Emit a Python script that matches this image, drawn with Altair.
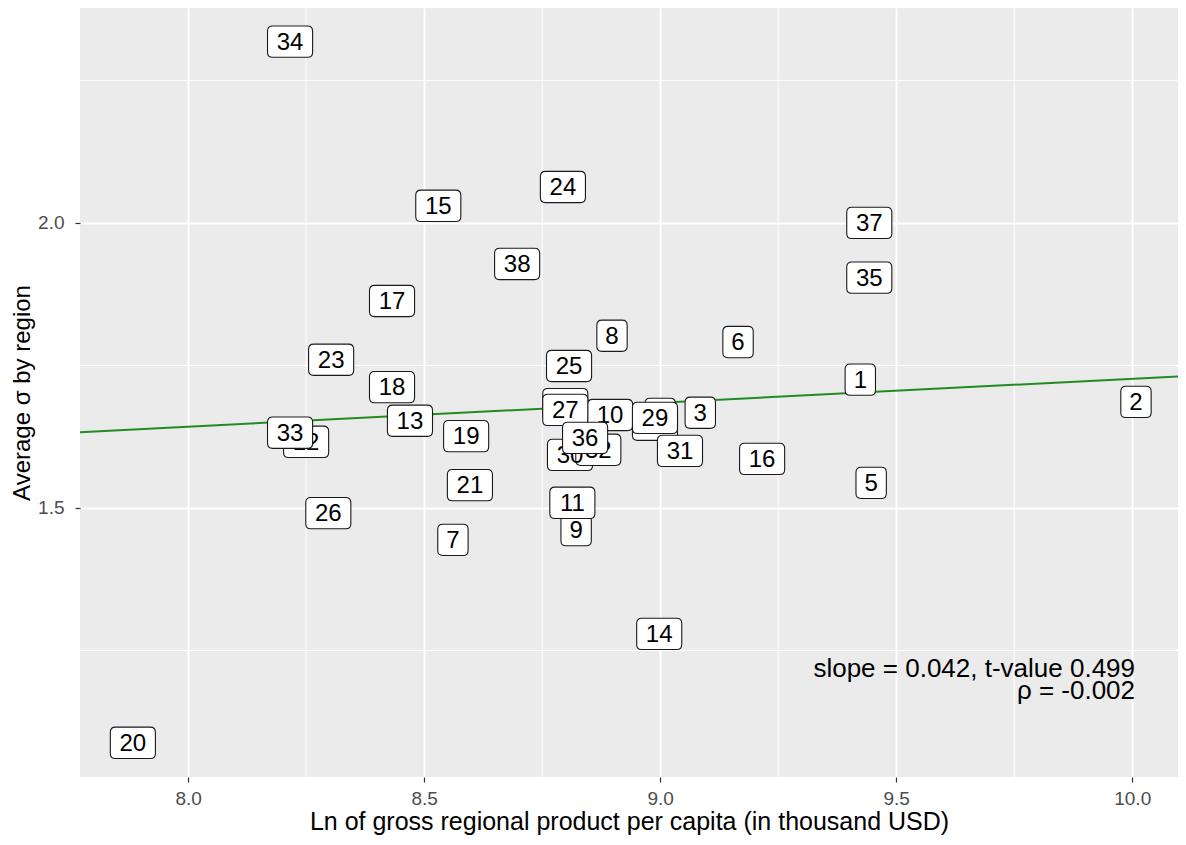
import altair as alt
import pandas as pd

# region labels and values
labels = ["1", "2", "3", "4", "5", "6", "7", "8", "9", "10",
          "11", "12", "13", "14", "15", "16", "17", "18", "19", "20",
          "21", "22", "23", "24", "25", "26", "27", "28", "29", "30",
          "31", "32", "33", "34", "35", "36", "37", "38"]
gdp_ln = [9.424, 10.008, 9.085, 9.000, 9.447, 9.165, 8.561, 8.898, 8.822, 8.894,
          8.814, 8.250, 8.470, 8.998, 8.530, 9.216, 8.432, 8.432, 8.589, 7.883,
          8.597, 8.799, 8.303, 8.794, 8.807, 8.297, 8.799, 8.989, 8.989, 8.809,
          9.042, 8.869, 8.216, 8.216, 9.443, 8.841, 9.443, 8.697]
avg_sigma = [1.725, 1.686, 1.667, 1.665, 1.544, 1.791, 1.444, 1.802, 1.461, 1.663,
             1.509, 1.616, 1.653, 1.279, 2.030, 1.586, 1.863, 1.712, 1.626, 1.088,
             1.540, 1.682, 1.760, 2.063, 1.749, 1.491, 1.672, 1.646, 1.658, 1.593,
             1.600, 1.602, 1.632, 2.318, 1.904, 1.623, 2.000, 1.928]
# drawing tier (which labels sit on top of which)
tier = [1, 1, 1, 0, 1, 1, 1, 1, 1, 1,
        1, 0, 1, 1, 1, 1, 1, 1, 1, 1,
        1, 0, 1, 1, 1, 1, 1, 0, 1, 0,
        1, 0, 1, 1, 1, 2, 1, 1]

# fitted line
fit_x = [7.771, 10.097]
fit_intercept = 1.3066
fit_slope = 0.042
fit_y = [fit_intercept + fit_slope * v for v in fit_x]

# annotation
note_text = ["slope = 0.042, t-value 0.499", "\u03c1 = -0.002"]
note_x = [10.006, 10.006]
note_y = [1.217, 1.178]

major_x = [8.0, 8.5, 9.0, 9.5, 10.0]
minor_x = [7.75, 8.25, 8.75, 9.25, 9.75]
major_y = [1.5, 2.0]
minor_y = [1.25, 1.75, 2.25]

X_DOMAIN = [7.771, 10.097]
Y_DOMAIN = [1.028, 2.377]

FONT = "Liberation Sans"

df = pd.DataFrame({"label": labels, "x": gdp_ln, "y": avg_sigma, "tier": tier})
df["kind"] = ["two" if len(s) > 1 else "one" for s in labels]
fit_df = pd.DataFrame({"x": fit_x, "y": fit_y})
note_df = pd.DataFrame({"text": note_text, "x": note_x, "y": note_y})


def rrect(hw, hh, r):
    return (f"M{-hw + r},{-hh}H{hw - r}Q{hw},{-hh} {hw},{-hh + r}"
            f"V{hh - r}Q{hw},{hh} {hw - r},{hh}H{-hw + r}"
            f"Q{-hw},{hh} {-hw},{hh - r}V{-hh + r}Q{-hw},{-hh} {-hw + r},{-hh}Z")


SHAPE_ONE = rrect(0.66, 0.68, 0.22)
SHAPE_TWO = rrect(0.98, 0.68, 0.22)

xs = alt.Scale(domain=X_DOMAIN, nice=False, zero=False)
ys = alt.Scale(domain=Y_DOMAIN, nice=False, zero=False)

X = alt.X("x:Q", scale=xs,
          axis=alt.Axis(values=major_x, format=".1f",
                        title="Ln of gross regional product per capita (in thousand USD)",
                        grid=True, gridColor="white", gridWidth=2,
                        labelFont=FONT, labelFontSize=19, labelColor="#4D4D4D",
                        labelPadding=7, titleFont=FONT, titleFontSize=25,
                        titlePadding=1, titleFontWeight="normal", titleColor="black"))
Y = alt.Y("y:Q", scale=ys,
          axis=alt.Axis(values=major_y, format=".1f", title="Average \u03c3 by region",
                        grid=True, gridColor="white", gridWidth=2,
                        labelFont=FONT, labelFontSize=19, labelColor="#4D4D4D",
                        labelPadding=11, titleFont=FONT, titleFontSize=24,
                        titlePadding=3, titleFontWeight="normal", titleColor="black"))

minor_v = alt.Chart(pd.DataFrame({"x": minor_x})).mark_rule(
    color="white", strokeWidth=1).encode(x=alt.X("x:Q", scale=xs))
minor_h = alt.Chart(pd.DataFrame({"y": minor_y})).mark_rule(
    color="white", strokeWidth=1).encode(y=alt.Y("y:Q", scale=ys))

fit = alt.Chart(fit_df).mark_line(color="#228B22", strokeWidth=2, clip=True).encode(x=X, y=Y)

base = alt.Chart(df)
layers = [minor_v, minor_h, fit]
for t in [0, 1, 2]:
    sub = base.transform_filter(alt.datum.tier == t)
    box = sub.mark_point(fill="white", fillOpacity=1, stroke="#1a1a1a",
                         strokeWidth=1.1, opacity=1, size=2116).encode(
        x=alt.X("x:Q", scale=xs), y=alt.Y("y:Q", scale=ys),
        shape=alt.Shape("kind:N", scale=alt.Scale(domain=["one", "two"],
                                                  range=[SHAPE_ONE, SHAPE_TWO]),
                        legend=None))
    txt = sub.mark_text(font=FONT, fontSize=24, color="black",
                        align="center", baseline="middle", dy=1).encode(
        x=alt.X("x:Q", scale=xs), y=alt.Y("y:Q", scale=ys), text="label:N")
    layers += [box, txt]

note = alt.Chart(note_df).mark_text(font=FONT, fontSize=26, color="black",
                                    align="right", baseline="middle").encode(
    x=alt.X("x:Q", scale=xs), y=alt.Y("y:Q", scale=ys), text="text:N")

axes_layer = alt.Chart(fit_df).mark_point(opacity=0).encode(x=X, y=Y)

chart = alt.layer(axes_layer, *layers, note).properties(
    width=1098, height=769,
    autosize=alt.AutoSizeParams(type="none"),
    padding={"left": 72, "top": 0, "right": 0, "bottom": 58},
).configure_view(fill="#EBEBEB", stroke=None).configure_axis(
    domain=False, tickColor="#333333", tickSize=5, tickWidth=1.2)

chart.save("out.html", embed_options={"renderer": "svg", "actions": False})
